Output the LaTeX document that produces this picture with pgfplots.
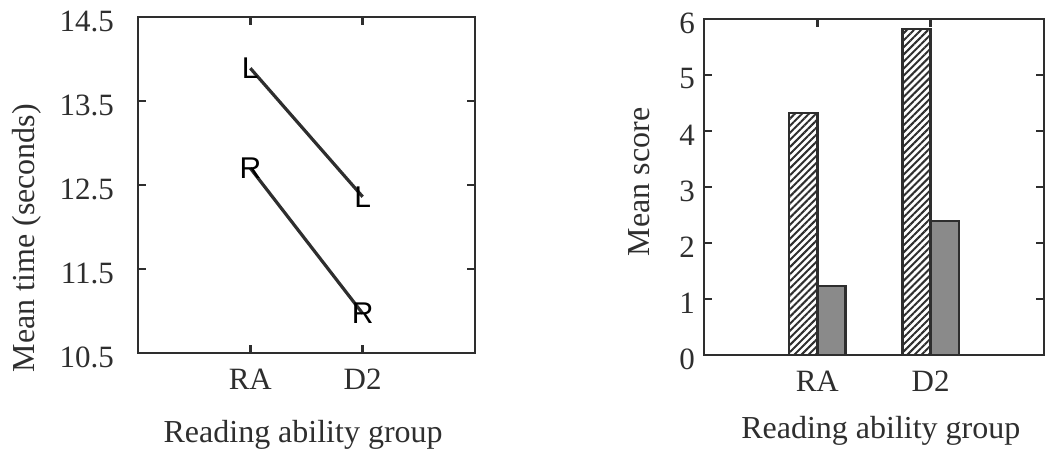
\documentclass[border=0pt]{standalone}
\usepackage{pgfplots}
\pgfplotsset{compat=1.18}
\usetikzlibrary{patterns.meta}
\usepackage{fontspec}
\setmainfont{Liberation Serif}
\newfontfamily\markfont{Liberation Sans}
\definecolor{ink}{HTML}{2E2E2E}
\definecolor{barGray}{HTML}{8A8A8A}
\begin{document}
\begin{tikzpicture}
\path[use as bounding box] (0,0) rectangle (523pt,224.5pt);
\pgfplotsset{
  common/.style={
    scale only axis,
    axis line style={ink, line width=1.4pt},
    tick style={ink, line width=1.2pt},
    major tick length=4pt,
    tick align=inside,
    xmin=0, xmax=3,
    xtick={1,2}, xticklabels={RA,D2},
    /pgf/number format/assume math mode=true,
    tick label style={font=\fontsize{15.5}{17}\selectfont, text=ink},
    label style={font=\fontsize{16}{18}\selectfont, text=ink},
    xticklabel style={yshift=-4.5pt},
  }
}
\begin{axis}[common,
  at={(69pt,48pt)}, anchor=south west,
  width=168.5pt, height=168pt,
  ymin=10.5, ymax=14.5,
  ytick={10.5,11.5,12.5,13.5,14.5},
  yticklabels={10.5,11.5,12.5,13.5,14.5},
  yticklabel style={xshift=-8.5pt, yshift=-2pt},
  xlabel={Reading ability group},
  xlabel style={at={(axis description cs:0.49,-0.2)}, anchor=north, inner sep=0pt},
  ylabel={Mean time (seconds)},
  ylabel style={at={(axis description cs:-0.329,0.342)}, anchor=center, inner sep=0pt},
]
\addplot[ink, line width=1.6pt, mark=text,
  text mark={\markfont\fontsize{15}{15}\selectfont L},
  mark options={ink, solid}]
  coordinates {(1,13.89) (2,12.36)};
\addplot[ink, line width=1.6pt, mark=text,
  text mark={\markfont\fontsize{15}{15}\selectfont R},
  mark options={ink, solid}]
  coordinates {(1,12.70) (2,10.97)};
\end{axis}
\begin{axis}[common,
  at={(352pt,47pt)}, anchor=south west,
  width=170pt, height=168pt,
  ymin=0, ymax=6,
  ytick={0,1,2,3,4,5,6},
  yticklabels={0,1,2,3,4,5,6},
  yticklabel style={xshift=-1pt, yshift=-2pt},
  xlabel={Reading ability group},
  xlabel style={at={(axis description cs:0.52,-0.18)}, anchor=north, inner sep=0pt},
  ylabel={Mean score},
  ylabel style={at={(axis description cs:-0.19,0.515)}, anchor=center, inner sep=0pt},
]
\addplot[ybar, bar width=0.25, bar shift=-0.125, draw=ink, line width=1.2pt,
  pattern={Lines[angle=45, distance=2.5pt, line width=1pt]}, pattern color=ink]
  coordinates {(1,4.32) (2,5.82)};
\addplot[ybar, bar width=0.25, bar shift=0.125, draw=ink, line width=1.2pt,
  fill=barGray]
  coordinates {(1,1.23) (2,2.39)};
\end{axis}
\end{tikzpicture}
\end{document}
